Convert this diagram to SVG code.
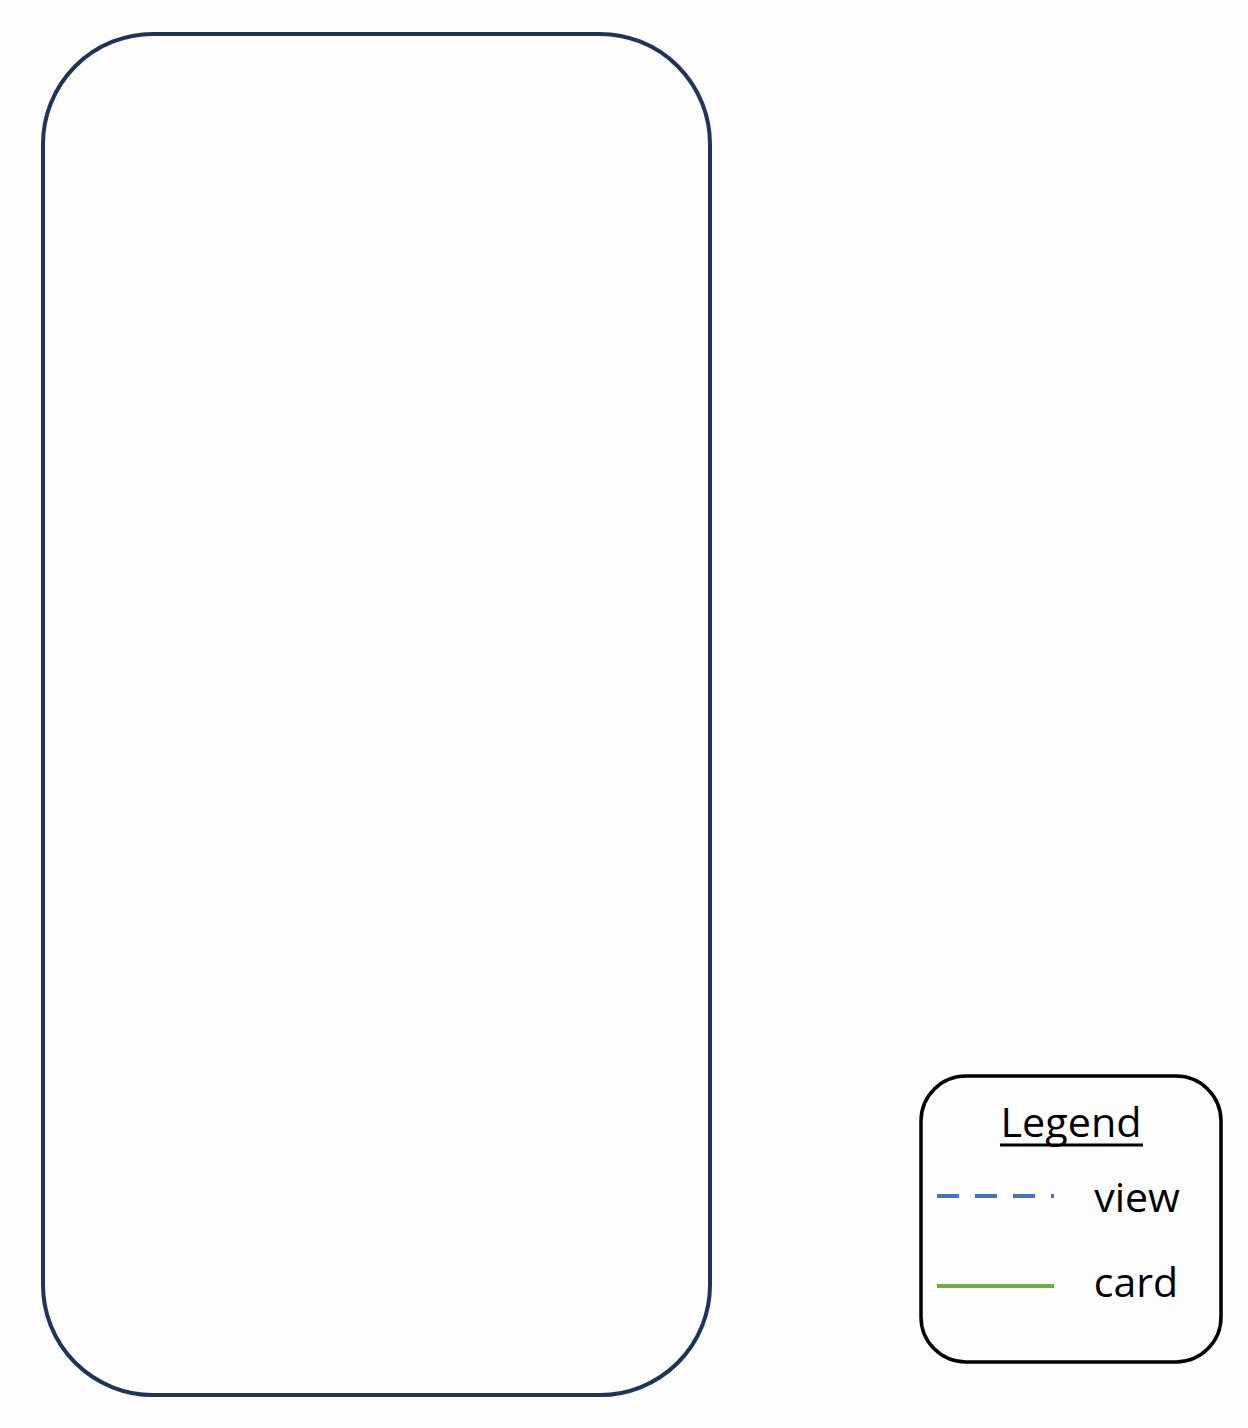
<svg xmlns="http://www.w3.org/2000/svg" width="1248" height="1428" viewBox="0 0 1248 1428">
<style>
.t{font-family:"Open Sans","Liberation Sans",sans-serif;font-size:41px;fill:#000}
</style>
<rect width="1248" height="1428" fill="#fdfdfd"/>
<g id="container">
<rect x="43" y="34" width="667" height="1361" rx="110" ry="110" fill="#fdfdfd" stroke="#1f3459" stroke-width="4"/>
</g>
<g id="legend">
<rect x="921" y="1076" width="300" height="286" rx="45" ry="45" fill="#fdfdfd" stroke="#000" stroke-width="3.5"/>
<text class="t" x="1071" y="1137" text-anchor="middle" textLength="141" lengthAdjust="spacingAndGlyphs">Legend</text>
<line x1="1000" y1="1145" x2="1143" y2="1145" stroke="#000" stroke-width="3"/>
<line x1="937" y1="1196" x2="1054" y2="1196" stroke="#4472c4" stroke-width="4" stroke-dasharray="22 16"/>
<text class="t" x="1137" y="1212" text-anchor="middle">view</text>
<line x1="937" y1="1286" x2="1054" y2="1286" stroke="#70ad47" stroke-width="4"/>
<text class="t" x="1136" y="1297" text-anchor="middle">card</text>
</g>
<g id="connectors"></g>
</svg>
